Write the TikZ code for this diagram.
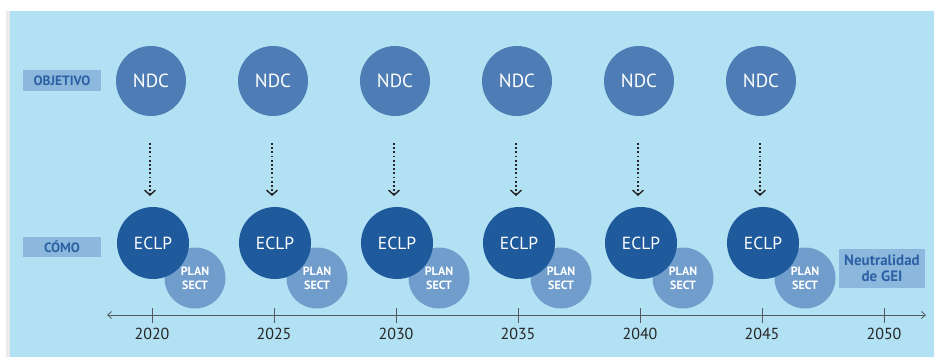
\documentclass[tikz,border=0pt]{standalone}
\usepackage{fontspec}
\setmainfont{PT Sans}
\usetikzlibrary{arrows.meta}
\definecolor{bgblue}{HTML}{B2E1F3}
\definecolor{ndcblue}{HTML}{4E7CB4}
\definecolor{eclpblue}{HTML}{1F5A9D}
\definecolor{planblue}{HTML}{709DCC}
\definecolor{tagblue}{HTML}{8CB8DE}
\definecolor{tagtext}{HTML}{2C62A4}
\definecolor{axisgray}{HTML}{555B60}
\tikzset{
  ndc/.style={circle, fill=ndcblue, minimum size=70pt, inner sep=0pt, text=white, font=\fontsize{19}{19}\selectfont},
  eclp/.style={circle, fill=eclpblue, minimum size=72pt, inner sep=0pt, text=white, font=\fontsize{17.5}{17.5}\selectfont},
  plan/.style={circle, fill=planblue, minimum size=61pt, inner sep=0pt, text=white, align=center, font=\bfseries\fontsize{12}{14}\selectfont},
  tag/.style={fill=tagblue, text=tagtext, inner sep=0pt, font=\bfseries\fontsize{13.5}{13.5}\selectfont},
  year/.style={font=\fontsize{16}{16}\selectfont, text=black!85},
  flow/.style={dash pattern=on 1.8pt off 2.4pt, line width=1.5pt, -{Straight Barb[length=5pt, width=11pt, line width=1.4pt]}, black!85},
  axis/.style={axisgray, line width=0.8pt}
}
\begin{document}
\begin{tikzpicture}[x=1pt, y=-1pt]
  \useasboundingbox (0,0) rectangle (934,358);
  % page, side strip and panel
  \fill[white] (0,0) rectangle (934,358);
  \fill[black!8] (6,11) rectangle (10,357);
  \fill[bgblue] (10,11) rectangle (934,357);

  % row labels
  \node[tag, minimum width=78pt, minimum height=21pt] (objetivo) at (62,80.5) {OBJETIVO};
  \node[tag, minimum width=78pt, minimum height=20pt] (como) at (62,247) {CÓMO};
  \node[tag, minimum width=86pt, minimum height=39pt, align=center,
        font=\bfseries\fontsize{15}{16}\selectfont] (neutral) at (882,268.5) {Neutralidad\\de GEI};

  % time axis
  \coordinate (axL) at (107,315);
  \coordinate (axR) at (926,315);
  \draw[axis, {Straight Barb[length=4pt, width=7pt]}-{Straight Barb[length=4pt, width=7pt]}] (axL) -- (axR);

  % one column per milestone year
  \foreach \yr [count=\i from 0] in {2020,2025,2030,2035,2040,2045,2050} {
    \coordinate (t\i) at (152+122*\i,315);
    \draw[axis] (152+122*\i,308) -- (152+122*\i,323);
    \node[year] (y\i) at (152+122*\i,334) {\yr};
  }
  \foreach \i in {0,...,5} {
    \node[plan] (plan\i) at (195+122*\i,278) {PLAN\\SECT};
    \node[eclp] (eclp\i) at (153+122*\i,243) {ECLP};
    \node[ndc] (ndc\i) at (151+122*\i,81) {NDC};
    \coordinate (a\i) at (150+122*\i,143);
    \coordinate (b\i) at (150+122*\i,196);
    \draw[flow] (a\i) -- (b\i);
  }
\end{tikzpicture}
\end{document}
